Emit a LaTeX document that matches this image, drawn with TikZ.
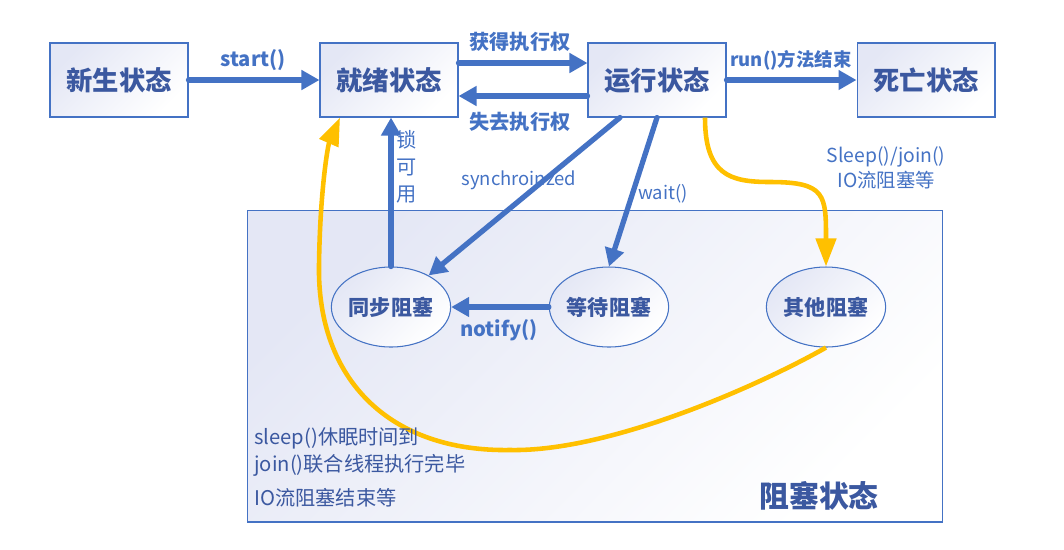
\documentclass[tikz,border=0pt]{standalone}
\usepackage{fontspec}
\setmainfont{Noto Sans CJK SC}
\usepackage{tikz}
\usetikzlibrary{arrows.meta,shapes.geometric,positioning,calc}

\definecolor{arrblue}{RGB}{68,114,196}
\definecolor{txtblue}{RGB}{59,88,160}
\definecolor{bord}{RGB}{68,114,196}
\definecolor{boxfill}{RGB}{228,231,245}
\definecolor{ylw}{RGB}{255,192,0}

\begin{document}
\begin{tikzpicture}[x=0.02cm, y=-0.02cm,
    shade/.style={top color=boxfill, middle color=boxfill!12!white, bottom color=white, shading angle=45},
    state/.style={draw=bord, line width=0.6pt, shade, minimum width=2.76cm, minimum height=1.48cm, inner sep=0pt, text=txtblue, font=\fontsize{15}{18}\selectfont\bfseries},
    blk/.style={ellipse, draw=bord, line width=0.6pt, shade, minimum width=2.36cm, minimum height=1.6cm, inner sep=0pt, text=txtblue, font=\fontsize{12}{14}\selectfont\bfseries},
    arr/.style={-{Triangle[length=0.36cm, width=0.38cm]}, line width=3pt, draw=arrblue, line cap=round},
    yarr/.style={-{Triangle[length=0.56cm, width=0.4cm]}, line width=2.6pt, draw=ylw},
    lbl/.style={font=\fontsize{11.5}{14}\selectfont\bfseries, text=arrblue, inner sep=1pt},
    note/.style={font=\fontsize{10.5}{14}\selectfont, text=arrblue, inner sep=1pt, align=center},
    cmt/.style={font=\fontsize{11.5}{14}\selectfont, text=txtblue, inner sep=0pt, anchor=west}
]
\useasboundingbox (0,0) rectangle (1064,549);

% blocking area
\node[draw=bord, line width=0.6pt, shade, minimum width=13.92cm, minimum height=6.24cm] (B) at (595,366) {};

% states
\node[state] (N) at (119,80) {新生状态};
\node[state] (R) at (389,80) {就绪状态};
\node[state] (U) at (657,80) {运行状态};
\node[state] (D) at (926,80) {死亡状态};

\node[blk] (S) at (391,307) {同步阻塞};
\node[blk] (W) at (609,307) {等待阻塞};
\node[blk] (O) at (826,307) {其他阻塞};

% arrows
\draw[arr] (N) -- (R);
\draw[arr] ([yshift=0.34cm]R.east) -- ([yshift=0.34cm]U.west);
\draw[arr] ([yshift=-0.32cm]U.west) -- ([yshift=-0.32cm]R.east);
\draw[arr] (U) -- (D);
\draw[arr] (S.north) -- (S.north |- R.south);
\draw[arr] ([xshift=-0.74cm]U.south) -- (S.40);
\draw[arr] (U.south) -- (W.north);
\draw[arr] (W.west) -- (S.east);

\draw[yarr] ([xshift=0.96cm]U.south) .. controls (705,175) and (730,182) .. (770,182)
    .. controls (826,182) and (826,195) .. (O.north);
\draw[yarr] (O.south) .. controls (760,385) and (610,452) .. (510,450)
    .. controls (390,452) and (317,380) .. (319,265)
    .. controls (320,190) and (328,145) .. ([xshift=-0.98cm]R.south);

% labels
\node[lbl] (l1) at (253,60) {start()};
\node[lbl] (l2) at (520,42) {获得执行权};
\node[lbl] (l3) at (520,122) {失去执行权};
\node[lbl, font=\fontsize{10.5}{14}\selectfont\bfseries] (l4) at (791,60) {run()方法结束};
\node[note, font=\fontsize{11.5}{15.3}\selectfont] (l5) at (407,167) {锁\\可\\用};
\node[note] (l6) at (519,180) {synchroinzed};
\node[note] (l7) at (663,194) {wait()};
\node[lbl] (l8) at (499,330) {notify()};
\node[note, font=\fontsize{11}{14.2}\selectfont] (l9) at (886,168) {Sleep()/join()\\IO流阻塞等};

\node[cmt] (c1) at (254,438) {sleep()休眠时间到};
\node[cmt] (c2) at (254,465) {join()联合线程执行完毕};
\node[cmt] (c3) at (254,498) {IO流阻塞结束等};
\node[text=txtblue, font=\fontsize{17}{20}\selectfont\bfseries] (T) at (819,496) {阻塞状态};
\end{tikzpicture}
\end{document}
